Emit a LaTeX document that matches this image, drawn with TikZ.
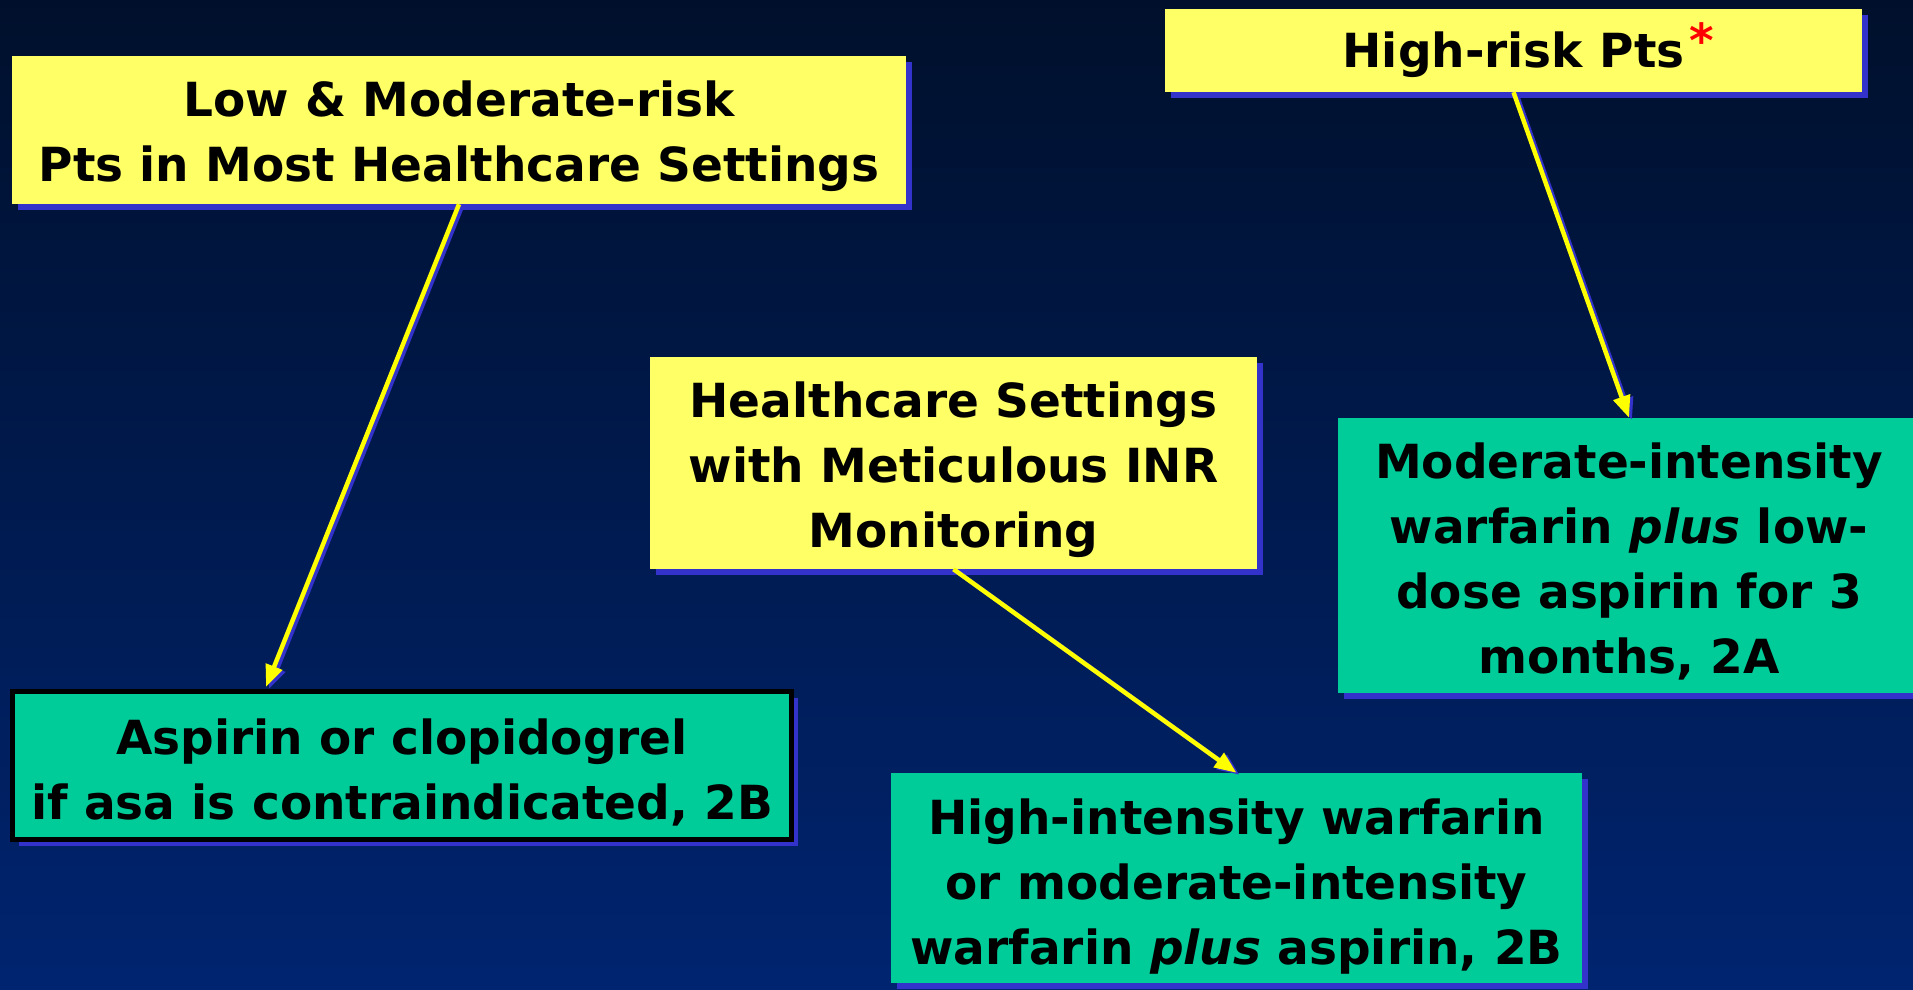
\documentclass[tikz,border=0pt]{standalone}
\usepackage{fontspec}
\setmainfont{DejaVu Sans}
\usetikzlibrary{shadows,arrows.meta}
\definecolor{bgtop}{RGB}{0,16,44}
\definecolor{bgbot}{RGB}{0,36,112}
\definecolor{boxyellow}{RGB}{255,255,102}
\definecolor{boxgreen}{RGB}{0,204,153}
\definecolor{shadowblue}{RGB}{51,51,204}
\definecolor{arrowyellow}{RGB}{255,255,0}
\newcommand\lowered[2]{\raisebox{-#1}[\height][\depth]{\begin{tabular}{@{}c@{}}#2\end{tabular}}}
\tikzset{
  basebox/.style={inner sep=0pt, align=center, text=black,
    font=\bfseries\fontsize{47}{65}\selectfont,
    drop shadow={shadow xshift=6pt, shadow yshift=-6pt, fill=shadowblue, opacity=1}},
  ybox/.style={basebox, fill=boxyellow},
  gbox/.style={basebox, fill=boxgreen},
  link/.style={draw=arrowyellow, line width=4.5pt, -{Triangle[length=22pt,width=17pt]}},
  linkshadow/.style={draw=shadowblue, line width=4.5pt, -{Triangle[length=22pt,width=17pt]}}
}
\begin{document}
\begin{tikzpicture}[x=1pt,y=-1pt]
\useasboundingbox (0,0) rectangle (1913,989);
\shade[top color=bgtop, bottom color=bgbot] (0,0) rectangle (1913,989);

\node[ybox, minimum width=894pt, minimum height=148pt] (b1) at (459,130)
  {\lowered{6pt}{Low \& Moderate-risk\\Pts in Most Healthcare Settings}};
\node[ybox, minimum width=697pt, minimum height=83pt] (b2) at (1513.5,50.5)
  {\lowered{4pt}{High-risk Pts\rlap{\hspace{5pt}\color{red}\raisebox{10pt}{*}}}};
\node[ybox, minimum width=607pt, minimum height=212pt] (b3) at (953.5,463)
  {\lowered{6pt}{Healthcare Settings\\with Meticulous INR\\Monitoring}};
\node[gbox, draw=black, line width=5pt, minimum width=779pt, minimum height=148pt] (b4) at (402,765.5)
  {\lowered{8pt}{Aspirin or clopidogrel\\if asa is contraindicated, 2B}};
\node[gbox, minimum width=582pt, minimum height=275pt] (b5) at (1629,555.5)
  {\lowered{7pt}{Moderate-intensity\\warfarin {\itshape plus} low-\\dose aspirin for 3\\months, 2A}};
\node[gbox, minimum width=691pt, minimum height=210pt] (b6) at (1236.5,878)
  {\lowered{8pt}{High-intensity warfarin\\or moderate-intensity\\warfarin {\itshape plus} aspirin, 2B}};

\coordinate (t1) at ([xshift=-136pt,yshift=2pt]b4.north);

\begin{scope}[transform canvas={shift={(3pt,-2pt)}}]
  \draw[linkshadow] (b1.south) -- (t1);
  \draw[linkshadow] (b2.south) -- (b5.north);
  \draw[linkshadow] (b3.south) -- (b6.north);
\end{scope}
\draw[link] (b1.south) -- (t1);
\draw[link] (b2.south) -- (b5.north);
\draw[link] (b3.south) -- (b6.north);
\end{tikzpicture}
\end{document}
